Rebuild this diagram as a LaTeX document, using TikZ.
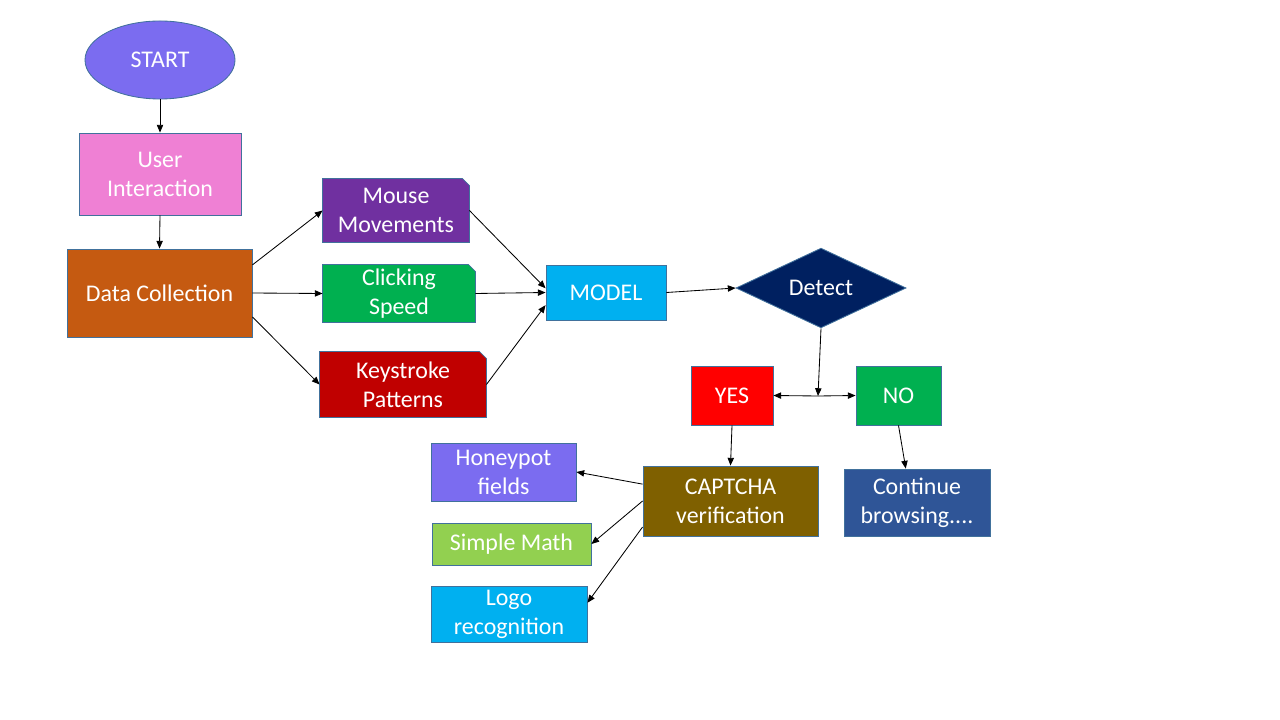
\documentclass[tikz,border=0pt]{standalone}
\usepackage{fontspec}
\setmainfont{Carlito}
\usepackage{xcolor}
\usepackage{tikz}
\usetikzlibrary{arrows.meta,positioning,shapes.geometric,backgrounds}
\definecolor{periwinkle}{HTML}{7B6CF0}
\definecolor{orchidpink}{HTML}{EF80D4}
\definecolor{rust}{HTML}{C55A11}
\definecolor{plum}{HTML}{7030A0}
\definecolor{leaf}{HTML}{00B050}
\definecolor{darkred}{HTML}{C00000}
\definecolor{sky}{HTML}{00B0F0}
\definecolor{navy}{HTML}{002060}
\definecolor{olive}{HTML}{7F6000}
\definecolor{steel}{HTML}{2F5597}
\definecolor{lime}{HTML}{92D050}
\definecolor{outline}{HTML}{41719C}
\tikzset{block/.style={
  % The shape:
  rectangle,
  % The border:
  draw=outline, line width=0.6pt,
  % Text:
  text=white, align=center, inner sep=2pt,
  font=\fontsize{17}{20.6}\selectfont,
  }
}
\tikzset{tab/.style={
  % Same as block, but outline drawn later with a cut corner
  block, draw=none,
  }
}

\begin{document}
\begin{tikzpicture}[x=0.025cm,y=-0.025cm,
    >={Triangle[length=5.5pt,width=4.5pt]},
    flow/.style={->,line width=0.6pt}]
  \useasboundingbox (0,0) rectangle (1280,720);

  % Left column
  \node (start) [block, ellipse, fill=periwinkle, minimum width=3.75cm,
    minimum height=1.95cm] at (160,60) {START};
  \node (user) [block, fill=orchidpink, minimum width=4.05cm,
    minimum height=2.05cm] at (160,174) {User\\Interaction};
  \node (data) [block, fill=rust, minimum width=4.625cm,
    minimum height=2.2cm] at (159.5,293) {Data Collection};

  % Features
  \node (mouse) [tab, minimum width=3.65cm,
    minimum height=1.575cm] at (396,210.5) {Mouse\\Movements};
  \node (click) [tab, minimum width=3.8cm,
    minimum height=1.425cm] at (399,293.5) {Clicking\\Speed};
  \node (keys) [tab, minimum width=4.15cm,
    minimum height=1.625cm] at (403,384.5) {Keystroke\\Patterns};
  \begin{scope}[on background layer]
    \foreach \n/\c in {mouse/plum, click/leaf, keys/darkred}
      \filldraw[fill=\c, draw=outline, line width=0.6pt]
        (\n.south west) |- ([xshift=-5pt]\n.north east)
        -- ([yshift=-5pt]\n.north east) |- (\n.south west) -- cycle;
  \end{scope}

  % Model and decision
  \node (model) [block, fill=sky, minimum width=3cm,
    minimum height=1.375cm] at (606,292.5) {MODEL};
  \node (detect) [block, diamond, fill=navy, inner sep=0pt,
    minimum width=4.25cm, minimum height=1.95cm] at (821,288) {Detect};
  \coordinate (split) at (818,396);
  \node (yes) [block, fill=red, minimum width=2.05cm,
    minimum height=1.475cm] at (732,395.5) {YES};
  \node (no) [block, fill=leaf, minimum width=2.125cm,
    minimum height=1.475cm] at (898.5,395.5) {NO};

  % Outcomes
  \node (captcha) [block, fill=olive, minimum width=4.375cm,
    minimum height=1.75cm] at (730.5,501) {CAPTCHA\\verification};
  \node (cont) [block, fill=steel, minimum width=3.65cm,
    minimum height=1.675cm] at (917,502.5) {Continue\\browsing....};
  \node (honey) [block, fill=periwinkle, minimum width=3.625cm,
    minimum height=1.45cm] at (503.5,472) {Honeypot\\fields};
  \node (math) [block, fill=lime, minimum width=3.975cm,
    minimum height=1.05cm] at (511.5,544) {Simple Math};
  \node (logo) [block, fill=sky, minimum width=3.9cm,
    minimum height=1.4cm] at (509,614) {Logo\\recognition};

  \path (start.south) edge [flow] (user.north)
        (user.south)  edge [flow] (data.north)
        ([yshift=20pt]data.east)  edge [flow] (mouse.west)
        (data.east)               edge [flow] (click.west)
        ([yshift=-17pt]data.east) edge [flow] (keys.west);
  \path (mouse.east) edge [flow] ([yshift=3pt]model.west)
        (click.east) edge [flow] (model.west)
        (keys.east)  edge [flow] ([yshift=-9pt]model.west)
        (model.east) edge [flow] (detect.west);
  \path (detect.south) edge [flow] (split)
        (split) edge [flow] (yes.east)
        (split) edge [flow] (no.west)
        (yes.south) edge [flow] (captcha.north)
        (no.south)  edge [flow] ([xshift=-8pt]cont.north);
  \path ([yshift=12pt]captcha.west)    edge [flow] (honey.east)
        (captcha.west)                  edge [flow] (math.east)
        ([yshift=-18.5pt]captcha.west) edge [flow] ([yshift=8pt]logo.east);
\end{tikzpicture}
\end{document}
